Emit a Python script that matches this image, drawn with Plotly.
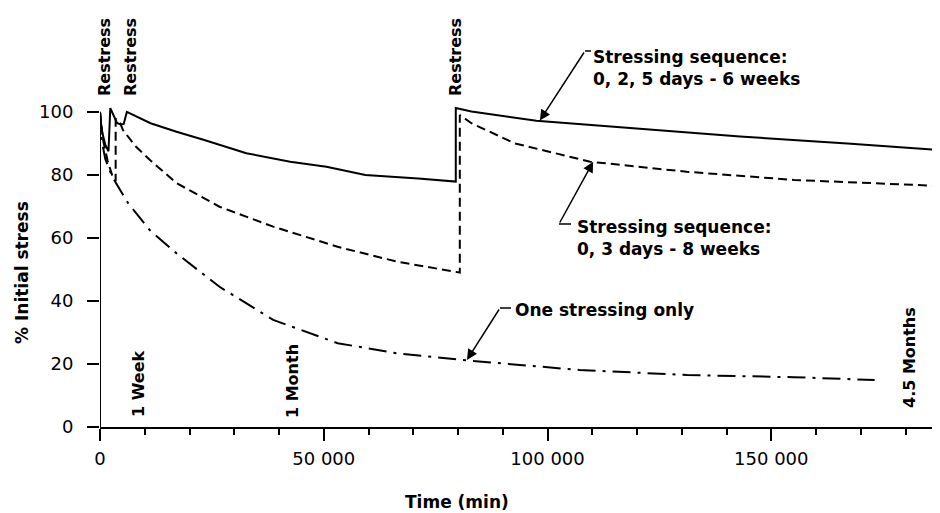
import plotly.graph_objects as go

# ---- data (time in minutes, % of initial stress) ----
seq1_time = [0, 400, 1200, 1900, 2300, 3000, 3800, 4600, 5300, 6000, 8500, 11300, 17100,
             23300, 32700, 42500, 50600, 59300, 71100, 79500, 79500, 83000, 97500, 119000,
             143000, 167000, 187700]
seq1_stress = [100, 94, 89.5, 87.5, 101.2, 99, 96.5, 96, 96.2, 100, 98.2, 96.4, 93.7,
               91.1, 86.9, 84.2, 82.6, 80.0, 78.9, 77.9, 101.2, 100.1, 97.2, 94.8,
               92.2, 90.0, 87.9]

seq2_time = [0, 700, 1700, 2700, 3500, 3500, 4500, 5100, 8000, 11100, 17100, 26700, 38700,
             53100, 66300, 80400, 80400, 83000, 92700, 109500, 131100, 155100, 187700]
seq2_stress = [100, 91, 84.5, 80, 78, 97.8, 96.5, 94.3, 89, 84.8, 77.4, 69.9, 63.6,
               57.2, 52.5, 49.0, 99.0, 96.4, 90.0, 84.2, 81.0, 78.4, 76.5]

once_time = [0, 500, 1200, 2700, 6300, 11100, 17100, 26700, 38700, 53100, 66300, 80700,
             107100, 131200, 155100, 173100]
once_stress = [100, 90, 85, 79.5, 71, 62.5, 55.1, 44.5, 34.0, 26.6, 23.4, 21.3,
               18.1, 16.5, 15.8, 14.9]

restress_label = "Restress"
milestone_labels = ["1 Week", "1 Month", "4.5 Months"]
x_title = "Time (min)"
y_title = "% Initial stress"

# ---- layout helpers: window pixels -> paper coords (plot area x 100..940, y 93..427) ----
def px(xp):
    return (xp - 100) / 840.0

def py(yp):
    return (427 - yp) / 334.0

BOLD = dict(family="DejaVu Sans", size=16, color="black", weight="bold")
CALL = dict(family="DejaVu Sans", size=17, color="black", weight="bold")

fig = go.Figure()
fig.add_trace(go.Scatter(x=seq1_time, y=seq1_stress, mode="lines",
                         line=dict(color="black", width=2), showlegend=False))
fig.add_trace(go.Scatter(x=seq2_time, y=seq2_stress, mode="lines",
                         line=dict(color="black", width=2, dash="9px,5px"), showlegend=False))
fig.add_trace(go.Scatter(x=once_time, y=once_stress, mode="lines",
                         line=dict(color="black", width=2, dash="18px,7px,3px,7px"),
                         showlegend=False))

ann = []
shapes = []
# rotated "Restress" labels above the plot
for xp in [104, 130, 455]:
    ann.append(dict(x=px(xp), y=py(57), xref="paper", yref="paper", text=restress_label,
                    showarrow=False, textangle=-90, font=BOLD,
                    xanchor="center", yanchor="middle"))
# rotated time milestones
for (xp, yp), lab in zip([(138, 384), (292, 381), (909, 358)], milestone_labels):
    ann.append(dict(x=px(xp), y=py(yp), xref="paper", yref="paper", text=lab,
                    showarrow=False, textangle=-90, font=BOLD,
                    xanchor="center", yanchor="middle"))

# callouts: text, text-left px, text-center py, leader start (px,py), hook end px, tip (data)
callouts = [
    ("Stressing sequence:<br>0, 2, 5 days - 6 weeks", 591, 68, (585, 51), 591, (98300, 97.3)),
    ("Stressing sequence:<br>0, 3 days - 8 weeks", 575, 238, (559, 224), 571, (110200, 84.2)),
    ("One stressing only", 513, 310, (500, 308), 511, (82000, 21.3)),
]
for text, tx, ty, start, hook_x, tip in callouts:
    ann.append(dict(x=px(tx), y=py(ty), xref="paper", yref="paper", text=text,
                    showarrow=False, align="left", xanchor="left", yanchor="middle",
                    font=CALL))
    tip_px = 100 + tip[0] / 187700 * 840
    tip_py = 427 - tip[1] / 106 * 334
    ann.append(dict(x=tip[0], y=tip[1], xref="x", yref="y",
                    ax=start[0] - tip_px, ay=start[1] - tip_py,
                    text="", showarrow=True, arrowhead=2, arrowsize=1.4,
                    arrowwidth=1.5, arrowcolor="black"))
    shapes.append(dict(type="line", xref="paper", yref="paper", x0=px(start[0]),
                       x1=px(hook_x), y0=py(start[1]), y1=py(start[1]),
                       line=dict(color="black", width=1.5)))

# y axis line only up to 100
shapes.append(dict(type="line", xref="x", yref="y", x0=0, x1=0, y0=0, y1=100,
                   line=dict(color="black", width=2)))

TITLE = dict(family="DejaVu Sans", size=17, color="black", weight="bold")
ann.append(dict(x=px(457), y=py(502), xref="paper", yref="paper", text=x_title,
                showarrow=False, font=TITLE, xanchor="center", yanchor="middle"))
ann.append(dict(x=px(22), y=py(273), xref="paper", yref="paper", text=y_title,
                showarrow=False, textangle=-90, font=TITLE,
                xanchor="center", yanchor="middle"))

# page body has an 8px margin: figure is 932x505 placed at (8,8)
fig.update_layout(
    width=932, height=505,
    margin=dict(l=92, r=0, t=85, b=86),
    plot_bgcolor="white", paper_bgcolor="white",
    separators=". ",
    annotations=ann, shapes=shapes,
    xaxis=dict(range=[0, 187700], tick0=0, dtick=50000, tickformat=",",
               ticks="outside", ticklen=12, tickwidth=2, tickcolor="black",
               showline=True, linecolor="black", linewidth=2,
               showgrid=False, zeroline=False,
               ticklabelstandoff=2,
               tickfont=dict(family="DejaVu Sans", size=18, color="black"),
               minor=dict(tickmode="linear", tick0=0, dtick=10000, ticks="outside",
                          ticklen=6, tickwidth=1.5, tickcolor="black", showgrid=False)),
    yaxis=dict(range=[0, 106], tick0=0, dtick=20, ticks="outside", ticklen=12,
               tickwidth=2, tickcolor="black", showline=False, showgrid=False,
               zeroline=False, ticklabelstandoff=10,
               tickfont=dict(family="DejaVu Sans", size=18, color="black")),
)

fig.write_html("out.html")
